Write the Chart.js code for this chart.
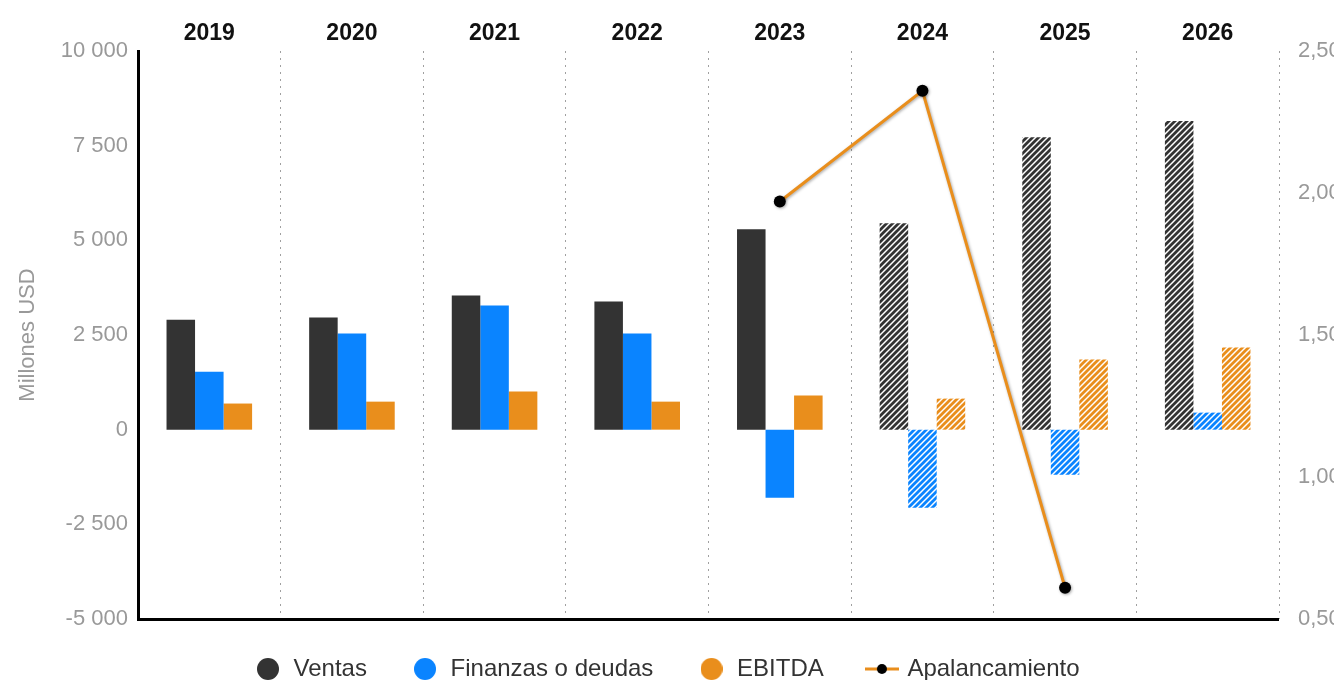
<!DOCTYPE html>
<html>
<head>
<meta charset="utf-8">
<script src="https://cdn.jsdelivr.net/npm/chart.js@4"></script>
<style>
  html, body { margin: 0; padding: 0; background: #fff; overflow: hidden; }
  #wrap { width: 1334px; height: 680px; position: relative; }
</style>
</head>
<body>
<div id="wrap"><canvas id="chart"></canvas></div>
<script>
// datos
const years = ['2019', '2020', '2021', '2022', '2023', '2024', '2025', '2026'];
const ventas = [2900, 2960, 3545, 3385, 5290, 5450, 7725, 8150];
const finanzas = [1530, 2540, 3280, 2540, -1800, -2060, -1190, 450];
const ebitda = [690, 740, 1005, 740, 900, 820, 1850, 2170];
const apalancamiento = [null, null, null, null, 1.97, 2.36, 0.61, null];
const firstForecast = 5; // desde 2024 las barras van rayadas

const FONT = "'Liberation Sans', Arial, sans-serif";
const colVentas = '#333333';
const colFinanzas = '#0a84ff';
const colEbitda = '#e98e1c';

// patrón de rayas diagonales
function stripes(color) {
    const s = 6;
    const c = document.createElement('canvas');
    c.width = s; c.height = s;
    const g = c.getContext('2d');
    g.fillStyle = '#fff';
    g.fillRect(0, 0, s, s);
    g.strokeStyle = color;
    g.lineWidth = 2.8;
    g.beginPath();
    g.moveTo(0, s); g.lineTo(s, 0);
    g.moveTo(-1, 1); g.lineTo(1, -1);
    g.moveTo(s - 1, s + 1); g.lineTo(s + 1, s - 1);
    g.stroke();
    return g.createPattern(c, 'repeat');
}

function barColor(color) {
    const pat = stripes(color);
    return ctx => (ctx.dataIndex >= firstForecast ? pat : color);
}

// iconos de leyenda
function dotIcon(color) {
    const c = document.createElement('canvas');
    c.width = 22; c.height = 22;
    const g = c.getContext('2d');
    g.fillStyle = color;
    g.beginPath(); g.arc(11, 11, 11, 0, Math.PI * 2); g.fill();
    return c;
}
function lineIcon() {
    const c = document.createElement('canvas');
    c.width = 34; c.height = 12;
    const g = c.getContext('2d');
    g.strokeStyle = colEbitda;
    g.lineWidth = 3;
    g.beginPath(); g.moveTo(0, 6); g.lineTo(34, 6); g.stroke();
    g.fillStyle = '#000';
    g.beginPath(); g.arc(17, 6, 5, 0, Math.PI * 2); g.fill();
    return c;
}
const legendIcons = [dotIcon(colVentas), dotIcon(colFinanzas), dotIcon(colEbitda), lineIcon()];

function fmtThousands(v) {
    const s = Math.abs(v).toString().replace(/\B(?=(\d{3})+(?!\d))/g, ' ');
    return (v < 0 ? '-' : '') + s;
}

// sombra suave bajo la línea
const lineShadow = {
    id: 'lineShadow',
    beforeDatasetDraw(chart, args) {
        if (args.index !== 3) return;
        const c = chart.ctx;
        c.save();
        c.shadowColor = 'rgba(0,0,0,0.35)';
        c.shadowBlur = 3;
        c.shadowOffsetX = 1;
        c.shadowOffsetY = 1;
    },
    afterDatasetDraw(chart, args) {
        if (args.index !== 3) return;
        chart.ctx.restore();
    }
};

const ctx = document.getElementById('chart').getContext('2d');
new Chart(ctx, {
    type: 'bar',
    data: {
        labels: years,
        datasets: [
            { label: 'Ventas', data: ventas, backgroundColor: barColor(colVentas), borderWidth: 0, order: 1, yAxisID: 'y' },
            { label: 'Finanzas o deudas', data: finanzas, backgroundColor: barColor(colFinanzas), borderWidth: 0, order: 1, yAxisID: 'y' },
            { label: 'EBITDA', data: ebitda, backgroundColor: barColor(colEbitda), borderWidth: 0, order: 1, yAxisID: 'y' },
            {
                type: 'line', label: 'Apalancamiento', data: apalancamiento, yAxisID: 'y2', order: 0,
                borderColor: colEbitda, backgroundColor: '#000', borderWidth: 3,
                pointRadius: 6, pointHoverRadius: 6, pointBackgroundColor: '#000', pointBorderWidth: 0,
                spanGaps: false, tension: 0
            }
        ]
    },
    options: {
        responsive: true,
        maintainAspectRatio: false,
        animation: false,
        layout: { padding: { top: 0, left: 0, right: 0, bottom: -11 } },
        datasets: { bar: { categoryPercentage: 0.6, barPercentage: 1 } },
        scales: {
            x: {
                position: 'top',
                offset: true,
                grid: { offset: true, drawTicks: false, color: '#a0a0a0', lineWidth: 1 },
                border: { display: false, dash: [2, 5] },
                ticks: { color: '#111', padding: 4, font: { family: FONT, size: 23, weight: 'bold' } },
                afterFit: s => { s.height = 51; }
            },
            y: {
                position: 'left',
                min: -5000, max: 10000,
                ticks: { stepSize: 2500, color: '#999', padding: 10, font: { family: FONT, size: 22 }, callback: v => fmtThousands(v) },
                grid: {
                    drawTicks: false,
                    color: c => (c.tick && c.tick.value === -5000 ? '#000' : 'rgba(0,0,0,0)'),
                    lineWidth: c => (c.tick && c.tick.value === -5000 ? 3 : 0)
                },
                border: { display: true, color: '#000', width: 3 },
                title: { display: true, text: 'Millones USD', color: '#999', font: { family: FONT, size: 22 }, padding: { top: 15, bottom: 0 } },
                afterFit: s => { s.width = 138; }
            },
            y2: {
                position: 'right',
                min: 0.5, max: 2.5,
                ticks: { stepSize: 0.5, color: '#999', padding: 11, font: { family: FONT, size: 22 }, callback: v => v.toFixed(2).replace('.', ',') },
                grid: { display: false },
                border: { display: false },
                afterFit: s => { s.width = 55; }
            }
        },
        plugins: {
            legend: {
                position: 'bottom',
                labels: {
                    usePointStyle: true,
                    pointStyleWidth: 27,
                    boxHeight: 15.5,
                    padding: 38,
                    color: '#333',
                    font: { family: FONT, size: 24 },
                    sort: (a, b) => a.datasetIndex - b.datasetIndex,
                    generateLabels: chart => {
                        const items = Chart.defaults.plugins.legend.labels.generateLabels(chart);
                        items.forEach(it => {
                            it.pointStyle = legendIcons[it.datasetIndex];
                            it.lineWidth = 0;
                            // un espacio extra para separar más los elementos
                            if (it.datasetIndex < 3) it.text = it.text + ' ';
                        });
                        return items;
                    }
                }
            },
            tooltip: { enabled: false }
        }
    },
    plugins: [lineShadow]
});
</script>
</body>
</html>
